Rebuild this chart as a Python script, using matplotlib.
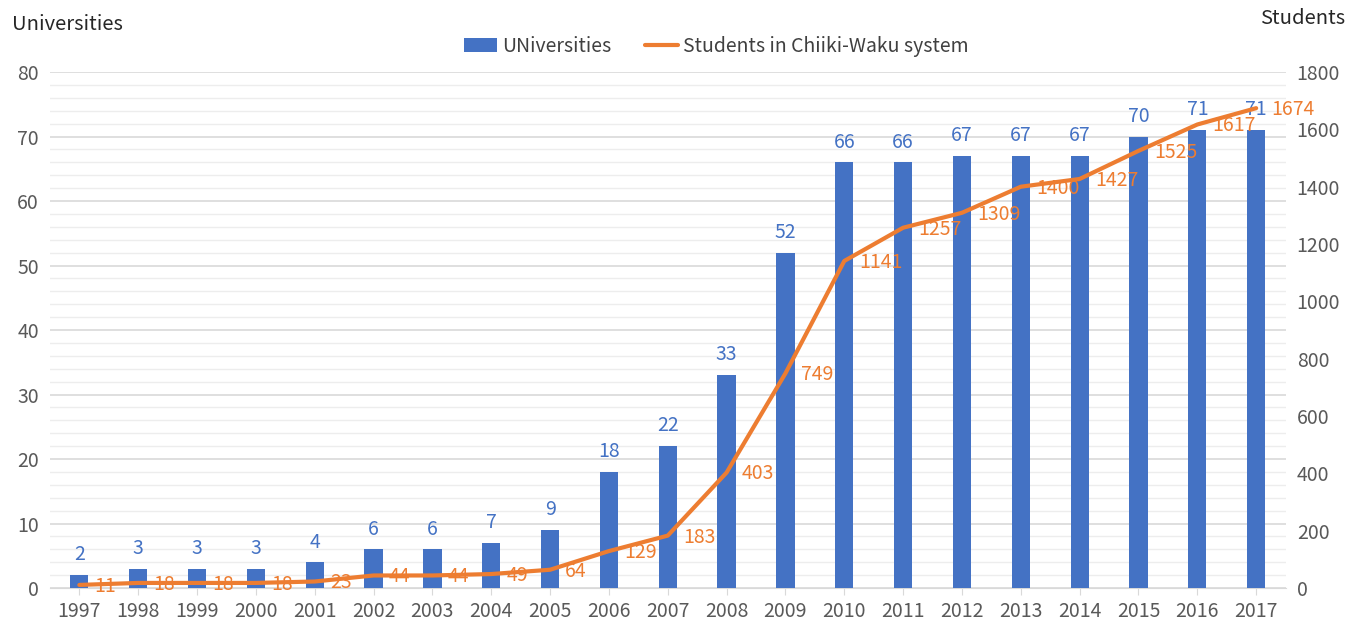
import matplotlib.pyplot as plt
from matplotlib.ticker import MultipleLocator

plt.rcParams['font.family'] = ['Noto Sans CJK JP', 'DejaVu Sans']

years = [str(y) for y in range(1997, 2018)]
universities = [2, 3, 3, 3, 4, 6, 6, 7, 9, 18, 22, 33, 52, 66, 66, 67, 67, 67, 70, 71, 71]
students = [11, 18, 18, 18, 23, 44, 44, 49, 64, 129, 183, 403, 749, 1141, 1257, 1309,
            1400, 1427, 1525, 1617, 1674]

blue = '#4472C4'
orange = '#ED7D31'
tick_col = '#595959'
fs = 14

fig = plt.figure(figsize=(13.49, 6.21), dpi=100)
ax = fig.add_axes([0.037, 0.053, 0.916, 0.831])
ax2 = ax.twinx()

x = list(range(len(years)))
bars = ax.bar(x, universities, width=0.31, color=blue, zorder=3, label='UNiversities')
for xi, v in zip(x, universities):
    ax.annotate(str(v), (xi, v), xytext=(0, 7), textcoords='offset points',
                ha='center', va='bottom', color=blue, fontsize=fs)

line, = ax2.plot(x, students, color=orange, linewidth=3, zorder=4,
                 label='Students in Chiiki-Waku system', solid_capstyle='round')
for xi, v in zip(x, students):
    ax2.annotate(str(v), (xi, v), xytext=(11, -1), textcoords='offset points',
                 ha='left', va='center', color=orange, fontsize=fs)

ax.set_xlim(-0.5, 20.5)
ax.set_ylim(0, 80)
ax2.set_ylim(0, 1800)
ax.yaxis.set_major_locator(MultipleLocator(10))
ax.yaxis.set_minor_locator(MultipleLocator(2))
ax2.yaxis.set_major_locator(MultipleLocator(200))
ax.grid(axis='y', which='major', color='#D9D9D9', linewidth=1.2, zorder=0)
ax.grid(axis='y', which='minor', color='#EDEDED', linewidth=1.0, zorder=0)
ax.set_axisbelow(True)

ax.set_xticks(x)
ax.set_xticklabels(years)
for a in (ax, ax2):
    for s in a.spines.values():
        s.set_visible(False)
    a.tick_params(axis='y', which='both', length=0, labelsize=fs, labelcolor=tick_col, pad=8)
ax.spines['bottom'].set_visible(True)
ax.spines['bottom'].set_color('#D9D9D9')
ax.tick_params(axis='x', length=5, color='#D9D9D9', labelsize=fs, labelcolor=tick_col,
               direction='out', pad=4)
ax.tick_params(axis='x', which='minor', length=0)
ax2.set_zorder(ax.get_zorder() + 1)
ax2.patch.set_visible(False)

fig.text(0.009, 0.96, 'Universities', fontsize=14.5, color='#262626', va='center', ha='left')
fig.text(0.997, 0.97, 'Students', fontsize=14.5, color='#262626', va='center', ha='right')

fig.legend([bars, line], ['UNiversities', 'Students in Chiiki-Waku system'],
           loc='center', bbox_to_anchor=(0.531, 0.925), ncol=2, frameon=False,
           fontsize=fs, labelcolor='#404040', handlelength=1.7, columnspacing=1.7,
           handletextpad=0.25)

fig.savefig('out.png', dpi=100, facecolor='white')
